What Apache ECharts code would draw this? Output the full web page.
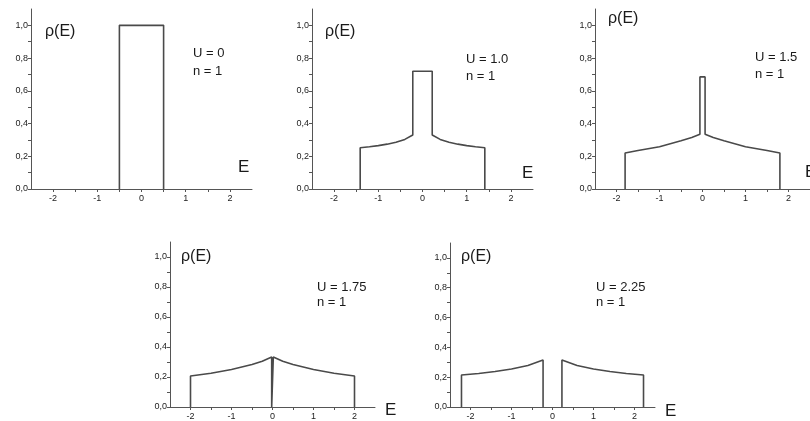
<!DOCTYPE html>
<html>
<head>
<meta charset="utf-8">
<script src="https://cdn.jsdelivr.net/npm/echarts@6/dist/echarts.min.js"></script>
<style>html,body{margin:0;padding:0;background:#fff}#c{width:810px;height:421px}</style>
</head>
<body>
<div id="c"></div>
<script>
// ---- data ----
var xTickLabels = ['-2', '-1', '0', '1', '2'];
var yTickLabels = ['0,0', '0,2', '0,4', '0,6', '0,8', '1,0'];
var panelU = ['U = 0', 'U = 1.0', 'U = 1.5', 'U = 1.75', 'U = 2.25'];
var panelN = ['n = 1', 'n = 1', 'n = 1', 'n = 1', 'n = 1'];
var yName = 'ρ(E)';
var xName = 'E';

// U = 0
var e0   = [-0.5, -0.5, 0.5, 0.5];
var rho0 = [0, 1.0, 1.0, 0];
// U = 1.0
var e1   = [-1.41, -1.41, -1.2, -1.0, -0.8, -0.6, -0.4, -0.22, -0.22, 0.22, 0.22, 0.4, 0.6, 0.8, 1.0, 1.2, 1.41, 1.41];
var rho1 = [0, 0.252, 0.258, 0.265, 0.274, 0.286, 0.303, 0.33, 0.72, 0.72, 0.33, 0.303, 0.286, 0.274, 0.265, 0.258, 0.252, 0];
// U = 1.5
var e2   = [-1.8, -1.8, -1.5, -1.0, -0.5, -0.25, -0.06, -0.06, 0.06, 0.06, 0.25, 0.5, 1.0, 1.5, 1.8, 1.8];
var rho2 = [0, 0.22, 0.235, 0.258, 0.295, 0.315, 0.335, 0.685, 0.685, 0.335, 0.315, 0.295, 0.258, 0.235, 0.22, 0];
// U = 1.75
var e3   = [-2.0, -2.0, -1.5, -1.0, -0.5, -0.25, -0.02, -0.02, 0.02, 0.02, 0.25, 0.5, 1.0, 1.5, 2.0, 2.0];
var rho3 = [0, 0.207, 0.225, 0.25, 0.283, 0.305, 0.333, 0, 0, 0.333, 0.305, 0.283, 0.25, 0.225, 0.207, 0];
// U = 2.25 (null = gap)
var e4   = [-2.22, -2.22, -1.8, -1.4, -1.0, -0.6, -0.23, -0.23, null, 0.23, 0.23, 0.6, 1.0, 1.4, 1.8, 2.22, 2.22];
var rho4 = [0, 0.215, 0.225, 0.238, 0.255, 0.278, 0.315, 0, null, 0, 0.315, 0.278, 0.255, 0.238, 0.225, 0.215, 0];

var allE = [e0, e1, e2, e3, e4];
var allRho = [rho0, rho1, rho2, rho3, rho4];

// ---- layout ----
var grids = [
  {left: 31, top: 9, width: 221, height: 180},
  {left: 312, top: 9, width: 221, height: 180},
  {left: 595, top: 9, width: 221, height: 180},
  {left: 170, top: 242, width: 205, height: 167},
  {left: 450, top: 243, width: 205, height: 166}
];
var textPos = [
  {rho: [45, 32], u: [193, 53], n: [193, 71], e: [238, 167]},
  {rho: [325, 32], u: [466, 59], n: [466, 76], e: [522, 173]},
  {rho: [608, 19], u: [755, 57], n: [755, 74], e: [805, 172]},
  {rho: [181, 257], u: [317, 287], n: [317, 302], e: [385, 410]},
  {rho: [461, 257], u: [596, 287], n: [596, 302], e: [665, 411]}
];

var axisColor = '#555';
var lineColor = '#4a4a4a';
var fontFam = 'Liberation Sans, Arial, sans-serif';

function fmtX(v) {
  var r = Math.round(v * 10) / 10;
  if (Math.abs(r - Math.round(r)) > 1e-6) return '';
  var s = String(Math.round(r));
  return xTickLabels.indexOf(s) >= 0 ? s : '';
}
function fmtY(v) {
  var r = Math.round(v * 10);
  if (r % 2 !== 0) return '';
  var s = (r / 10).toFixed(1).replace('.', ',');
  return yTickLabels.indexOf(s) >= 0 ? s : '';
}

var xAxes = [], yAxes = [], series = [], graphics = [];
for (var i = 0; i < 5; i++) {
  xAxes.push({
    type: 'value', gridIndex: i, min: -2.5, max: 2.5, interval: 0.5,
    axisLine: {show: true, onZero: false, lineStyle: {color: axisColor, width: 1}},
    axisTick: {show: true, length: 3, lineStyle: {color: axisColor}},
    axisLabel: {formatter: fmtX, fontSize: 9, color: '#222', margin: 5, fontFamily: fontFam,
                showMinLabel: false, showMaxLabel: false},
    splitLine: {show: false}
  });
  yAxes.push({
    type: 'value', gridIndex: i, min: 0, max: 1.1, interval: 0.1,
    axisLine: {show: true, onZero: false, lineStyle: {color: axisColor, width: 1}},
    axisTick: {show: true, length: 3, lineStyle: {color: axisColor}},
    axisLabel: {formatter: fmtY, fontSize: 9, color: '#222', margin: 3, fontFamily: fontFam,
                showMaxLabel: false},
    splitLine: {show: false}
  });
  var data = [];
  for (var k = 0; k < allE[i].length; k++) {
    if (allE[i][k] === null) data.push('-');
    else data.push([allE[i][k], allRho[i][k]]);
  }
  series.push({
    type: 'line', xAxisIndex: i, yAxisIndex: i, data: data,
    symbol: 'none', connectNulls: false, clip: false,
    lineStyle: {color: lineColor, width: 1.6}, animation: false
  });
  var p = textPos[i];
  graphics.push({type: 'text', x: p.rho[0], y: p.rho[1],
    style: {text: yName, font: '16px ' + fontFam, fill: '#1a1a1a', verticalAlign: 'middle', align: 'left'}});
  graphics.push({type: 'text', x: p.u[0], y: p.u[1],
    style: {text: panelU[i], font: '13px ' + fontFam, fill: '#1a1a1a', verticalAlign: 'middle', align: 'left'}});
  graphics.push({type: 'text', x: p.n[0], y: p.n[1],
    style: {text: panelN[i], font: '13px ' + fontFam, fill: '#1a1a1a', verticalAlign: 'middle', align: 'left'}});
  graphics.push({type: 'text', x: p.e[0], y: p.e[1],
    style: {text: xName, font: '17px ' + fontFam, fill: '#1a1a1a', verticalAlign: 'middle', align: 'left'}});
}

var chart = echarts.init(document.getElementById('c'), null, {renderer: 'canvas'});
chart.setOption({
  animation: false,
  backgroundColor: '#fff',
  grid: grids,
  xAxis: xAxes,
  yAxis: yAxes,
  series: series,
  graphic: graphics
});
</script>
</body>
</html>
